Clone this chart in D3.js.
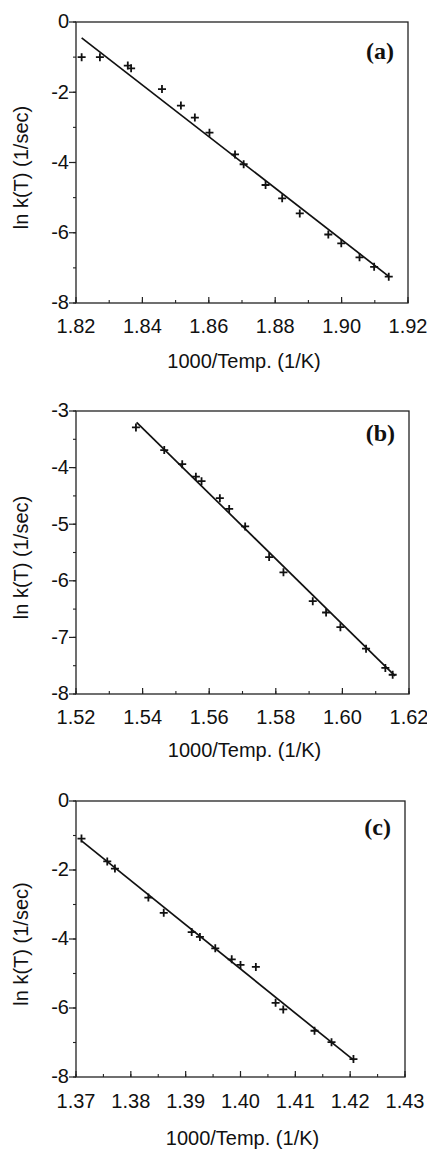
<!DOCTYPE html>
<html><head><meta charset="utf-8">
<script src="https://cdn.jsdelivr.net/npm/d3@7"></script>
<style>
body{margin:0;background:#fff;}
svg{display:block;}
text{fill:#111;}
</style></head>
<body>
<svg id="chart" width="427" height="1150"></svg>
<script>
// ---- Data ----
const aX = [1.8217,1.8272,1.8356,1.8366,1.8459,1.8516,1.8558,1.8602,1.8679,1.8705,1.8771,1.8821,1.8874,1.8960,1.8999,1.9054,1.9098,1.9142];
const aY = [-1.00,-1.00,-1.24,-1.32,-1.91,-2.38,-2.72,-3.15,-3.77,-4.05,-4.64,-5.02,-5.45,-6.05,-6.30,-6.70,-6.97,-7.25];
const aFitX = [1.8217,1.9142];
const aFitY = [-0.45,-7.24];

const bX = [1.5380,1.5465,1.5519,1.5560,1.5577,1.5632,1.5660,1.5708,1.5780,1.5823,1.5911,1.5951,1.5994,1.6071,1.6129,1.6151];
const bY = [-3.29,-3.69,-3.94,-4.16,-4.24,-4.54,-4.73,-5.04,-5.58,-5.85,-6.36,-6.56,-6.82,-7.20,-7.54,-7.66];
const bFitX = [1.5382,1.6158];
const bFitY = [-3.20,-7.68];

const cX = [1.3710,1.3757,1.3771,1.3832,1.3860,1.3911,1.3926,1.3954,1.3984,1.4000,1.4028,1.4064,1.4078,1.4135,1.4166,1.4206];
const cY = [-1.09,-1.75,-1.96,-2.80,-3.24,-3.80,-3.94,-4.27,-4.59,-4.75,-4.81,-5.85,-6.04,-6.66,-6.99,-7.48];
const cFitX = [1.3709,1.4207];
const cFitY = [-1.14,-7.52];

const aXTicks = ["1.82","1.84","1.86","1.88","1.90","1.92"];
const aYTicks = ["0","-2","-4","-6","-8"];
const bXTicks = ["1.52","1.54","1.56","1.58","1.60","1.62"];
const bYTicks = ["-3","-4","-5","-6","-7","-8"];
const cXTicks = ["1.37","1.38","1.39","1.40","1.41","1.42","1.43"];
const cYTicks = ["0","-2","-4","-6","-8"];

const panelLabels = ["(a)","(b)","(c)"];
const xTitle = "1000/Temp. (1/K)";
const yTitle = "ln k(T) (1/sec)";

// ---- Layout ----
const panels = [
  {x:aX,y:aY,fx:aFitX,fy:aFitY,xt:aXTicks,yt:aYTicks,xdom:[1.82,1.92],ydom:[-8,0],xminor:0.01,yminor:1,
   L:76,R:408,T:22,B:303,tickOff:30,titleOff:65,label:panelLabels[0],labelY:59},
  {x:bX,y:bY,fx:bFitX,fy:bFitY,xt:bXTicks,yt:bYTicks,xdom:[1.52,1.62],ydom:[-8,-3],xminor:0.01,yminor:0.5,
   L:76,R:409,T:411,B:694,tickOff:30,titleOff:63,label:panelLabels[1],labelY:441},
  {x:cX,y:cY,fx:cFitX,fy:cFitY,xt:cXTicks,yt:cYTicks,xdom:[1.37,1.43],ydom:[-8,0],xminor:0.005,yminor:1,
   L:76,R:405,T:801,B:1077,tickOff:31,titleOff:68,label:panelLabels[2],labelY:835}
];

const svg = d3.select("#chart");
const sans = "'Liberation Sans', Arial, sans-serif";

panels.forEach(p => {
  const xs = d3.scaleLinear().domain(p.xdom).range([p.L, p.R]);
  const ys = d3.scaleLinear().domain(p.ydom).range([p.B, p.T]);
  const g = svg.append("g");

  // minor ticks
  const xMinor = d3.range(p.xdom[0], p.xdom[1] + 1e-9, p.xminor);
  g.append("g").selectAll("line").data(xMinor).join("line")
    .attr("x1", d => xs(d)).attr("x2", d => xs(d))
    .attr("y1", p.B).attr("y2", p.B - 3)
    .attr("stroke", "#222").attr("stroke-width", 1.1);
  const yMinor = d3.range(p.ydom[0], p.ydom[1] + 1e-9, p.yminor);
  g.append("g").selectAll("line").data(yMinor).join("line")
    .attr("x1", p.L).attr("x2", p.L - 3)
    .attr("y1", d => ys(d)).attr("y2", d => ys(d))
    .attr("stroke", "#222").attr("stroke-width", 1.1);

  // major x ticks (inward) with labels
  const xVals = p.xt.map(Number);
  g.append("g").selectAll("line").data(xVals).join("line")
    .attr("x1", d => xs(d)).attr("x2", d => xs(d))
    .attr("y1", p.B).attr("y2", p.B - 6)
    .attr("stroke", "#222").attr("stroke-width", 1.2);
  g.append("g").selectAll("text").data(p.xt).join("text")
    .attr("x", d => xs(+d)).attr("y", p.B + p.tickOff)
    .attr("text-anchor", "middle")
    .style("font-family", sans).style("font-size", "20px")
    .text(d => d);

  // major y ticks (outward) with labels
  const yVals = p.yt.map(Number);
  g.append("g").selectAll("line").data(yVals).join("line")
    .attr("x1", p.L).attr("x2", p.L - 7)
    .attr("y1", d => ys(d)).attr("y2", d => ys(d))
    .attr("stroke", "#222").attr("stroke-width", 1.2);
  g.append("g").selectAll("text").data(p.yt).join("text")
    .attr("x", p.L - 7).attr("y", d => ys(+d))
    .attr("dy", "0.32em")
    .attr("text-anchor", "end")
    .style("font-family", sans).style("font-size", "20px")
    .text(d => d);

  // frame
  g.append("rect")
    .attr("x", p.L).attr("y", p.T)
    .attr("width", p.R - p.L).attr("height", p.B - p.T)
    .attr("fill", "none").attr("stroke", "#222").attr("stroke-width", 1.3);

  // fit line
  const fit = p.fx.map((v, i) => [v, p.fy[i]]);
  g.append("path")
    .attr("d", d3.line().x(d => xs(d[0])).y(d => ys(d[1]))(fit))
    .attr("fill", "none").attr("stroke", "#111").attr("stroke-width", 1.7);

  // data points (+)
  const pts = p.x.map((v, i) => [v, p.y[i]]);
  const s = 4;
  g.append("g").selectAll("path").data(pts).join("path")
    .attr("d", d => {
      const cx = xs(d[0]), cy = ys(d[1]);
      return `M${cx - s},${cy}H${cx + s}M${cx},${cy - s}V${cy + s}`;
    })
    .attr("fill", "none").attr("stroke", "#111").attr("stroke-width", 1.8);

  // panel label
  g.append("text")
    .attr("x", p.R - 14).attr("y", p.labelY)
    .attr("text-anchor", "end")
    .style("font-family", "'Liberation Serif', 'Times New Roman', serif")
    .style("font-weight", "bold").style("font-size", "24px")
    .text(p.label);

  // axis titles
  g.append("text")
    .attr("x", (p.L + p.R) / 2 + 2).attr("y", p.B + p.titleOff)
    .attr("text-anchor", "middle")
    .style("font-family", sans).style("font-size", "20px")
    .text(xTitle);
  const cy = (p.T + p.B) / 2 + 5;
  g.append("text")
    .attr("transform", `translate(28,${cy}) rotate(-90)`)
    .attr("text-anchor", "middle")
    .style("font-family", sans).style("font-size", "20px")
    .text(yTitle);
});
</script>
</body></html>
